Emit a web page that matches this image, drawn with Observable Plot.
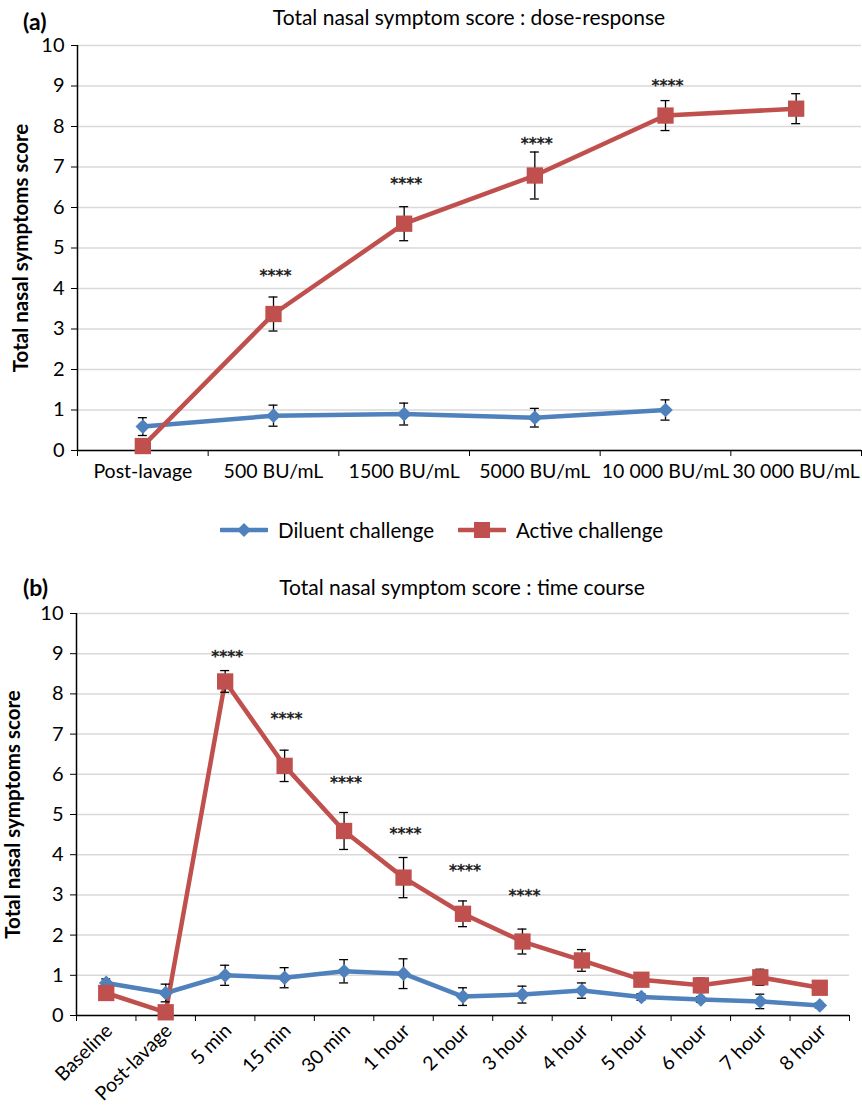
<!DOCTYPE html>
<html>
<head>
<meta charset="utf-8">
<script src="https://cdn.jsdelivr.net/npm/d3@7"></script>
<script src="https://cdn.jsdelivr.net/npm/@observablehq/plot@0.6"></script>
<style>
  body { margin: 0; background: #fff; font-family: Lato, "Open Sans", sans-serif; }
  #wrap { position: relative; width: 862px; height: 1105px; overflow: hidden; }
  .abs { position: absolute; white-space: nowrap; color: #000; }
  .title { font-size: 21px; transform: translateX(-50%); line-height: 1; }
  .plabel { font-size: 23px; font-weight: bold; line-height: 1; }
  .legend { font-size: 20.5px; display: flex; align-items: center; line-height: 1; }
  .legend svg { display: block; }
</style>
</head>
<body>
<div id="wrap">
  <div class="abs plabel" style="left:23px;top:10px">(a)</div>
  <div class="abs title" style="left:469px;top:6px">Total nasal symptom score : dose-response</div>
  <div class="abs" id="plotA" style="left:0;top:0"></div>
  <div class="abs legend" style="left:220px;top:520px">
    <svg width="48" height="20"><line x1="1" y1="10" x2="47" y2="10" stroke="#4F81BD" stroke-width="4.5" stroke-linecap="round"/><path d="M24,3 L31,10 L24,17 L17,10 Z" fill="#4F81BD"/></svg>
    <span style="margin-left:10px">Diluent challenge</span>
    <svg width="48" height="20" style="margin-left:24px"><line x1="1" y1="10" x2="47" y2="10" stroke="#C0504D" stroke-width="4.5" stroke-linecap="round"/><rect x="16" y="2" width="16" height="16" fill="#C0504D"/></svg>
    <span style="margin-left:10px">Active challenge</span>
  </div>
  <div class="abs plabel" style="left:23px;top:576px">(b)</div>
  <div class="abs title" style="left:462px;top:576px">Total nasal symptom score : time course</div>
  <div class="abs" id="plotB" style="left:0;top:570px"></div>
</div>
<script>
// ---------- Panel (a): dose-response ----------
const doseCats = ["Post-lavage", "500 BU/mL", "1500 BU/mL", "5000 BU/mL", "10 000 BU/mL", "30 000 BU/mL"];
const doseDiluentMean = [0.59, 0.86, 0.90, 0.81, 1.00, null];
const doseDiluentErr  = [0.22, 0.26, 0.27, 0.23, 0.25, null];
const doseActiveMean  = [0.11, 3.37, 5.60, 6.79, 8.27, 8.44];
const doseActiveErr   = [0.00, 0.42, 0.42, 0.58, 0.37, 0.37];
const doseSigLabel    = ["", "****", "****", "****", "****", ""];
const doseSigLevel    = [null, 4.40, 6.67, 7.68, 9.09, null];

// ---------- Panel (b): time course ----------
const timeCats = ["Baseline", "Post-lavage", "5 min", "15 min", "30 min", "1 hour", "2 hour", "3 hour", "4 hour", "5 hour", "6 hour", "7 hour", "8 hour"];
const timeDiluentMean = [0.81, 0.56, 1.00, 0.94, 1.10, 1.04, 0.47, 0.52, 0.62, 0.46, 0.40, 0.35, 0.25];
const timeDiluentErr  = [0.10, 0.22, 0.25, 0.25, 0.29, 0.37, 0.22, 0.21, 0.19, 0.08, 0.07, 0.18, 0.06];
const timeActiveMean  = [0.56, 0.08, 8.31, 6.21, 4.59, 3.43, 2.53, 1.84, 1.37, 0.89, 0.75, 0.95, 0.69];
const timeActiveErr   = [0.05, 0.05, 0.27, 0.39, 0.46, 0.50, 0.32, 0.31, 0.27, 0.05, 0.18, 0.20, 0.05];
const timeSigLabel    = ["", "", "****", "****", "****", "****", "****", "****", "", "", "", "", ""];
const timeSigLevel    = [null, null, 9.03, 7.47, 5.89, 4.62, 3.69, 3.07, null, null, null, null, null];

const yTicks = [0, 1, 2, 3, 4, 5, 6, 7, 8, 9, 10];
const BLUE = "#4F81BD", RED = "#C0504D";

function rows(cats, mean, err) {
  return cats.map((c, i) => ({i, cat: c, m: mean[i], e: err[i]})).filter(d => d.m != null);
}
function sigRows(cats, labels, levels) {
  return cats.map((c, i) => ({i, label: labels[i], y: levels[i]})).filter(d => d.y != null && d.label);
}

function panel({cats, dil, act, sig, height, mt, mb, ml, mr, rotate, xFont, labelX}) {
  const n = cats.length;
  const errMarks = (data) => [
    Plot.ruleX(data.filter(d => d.e > 0), {x: "i", y1: d => d.m - d.e, y2: d => d.m + d.e, stroke: "#000", strokeWidth: 1.3}),
    Plot.ruleY(data.filter(d => d.e > 0), {y: d => d.m + d.e, x1: "i", x2: "i", insetLeft: -4.5, insetRight: -4.5, stroke: "#000", strokeWidth: 1.3}),
    Plot.ruleY(data.filter(d => d.e > 0), {y: d => d.m - d.e, x1: "i", x2: "i", insetLeft: -4.5, insetRight: -4.5, stroke: "#000", strokeWidth: 1.3})
  ];
  return Plot.plot({
    width: 862,
    height,
    marginTop: mt, marginBottom: mb, marginLeft: ml, marginRight: mr,
    style: {fontFamily: "Lato, 'Open Sans', sans-serif", fontSize: "20px", color: "#000", background: "transparent"},
    x: {type: "linear", domain: [-0.5, n - 0.5]},
    y: {domain: [0, 10]},
    marks: [
      Plot.gridY(yTicks, {stroke: "#d9d9d9", strokeOpacity: 1, strokeWidth: 1.5}),
      Plot.axisY(yTicks, {tickSize: 6, tickPadding: 7, fontSize: 20, label: null, stroke: "#000"}),
      Plot.axisX(d3.range(n + 1).map(k => k - 0.5), {tickSize: 6, tickFormat: () => "", label: null, stroke: "#000"}),
      rotate
        ? Plot.axisX(d3.range(n), {tickSize: 0, tickPadding: 12, tickRotate: -45, dx: 3, fontSize: xFont, tickFormat: k => cats[k], label: null})
        : Plot.axisX(d3.range(n), {tickSize: 0, tickPadding: 14, fontSize: xFont, tickFormat: k => cats[k], label: null}),
      Plot.ruleY([0], {stroke: "#000", strokeWidth: 1.5}),
      Plot.ruleX([-0.5], {stroke: "#000", strokeWidth: 1.5}),
      Plot.line(dil, {x: "i", y: "m", stroke: BLUE, strokeWidth: 4.5}),
      Plot.line(act, {x: "i", y: "m", stroke: RED, strokeWidth: 4.5}),
      ...errMarks(dil),
      ...errMarks(act),
      Plot.dot(dil, {x: "i", y: "m", symbol: "diamond2", r: 6.6, fill: BLUE, stroke: null}),
      Plot.dot(act, {x: "i", y: "m", symbol: "square", r: 9.2, fill: RED, stroke: null}),
      Plot.text(sig, {x: "i", y: "y", text: "label", fontFamily: "'DejaVu Sans', sans-serif", fontSize: 16, dx: 2, dy: 4, fill: "#1a1a1a", stroke: "#1a1a1a", strokeWidth: 0.5}),
      Plot.text(["Total nasal symptoms score"], {frameAnchor: "left", textAnchor: "middle", rotate: -90, dx: labelX - ml, fontSize: 20.5, fontWeight: "bold", text: d => d})
    ]
  });
}

document.getElementById("plotA").append(panel({
  cats: doseCats,
  dil: rows(doseCats, doseDiluentMean, doseDiluentErr),
  act: rows(doseCats, doseActiveMean, doseActiveErr),
  sig: sigRows(doseCats, doseSigLabel, doseSigLevel),
  height: 500, mt: 45, mb: 50, ml: 77, mr: 1, rotate: false, xFont: 19.5, labelX: 21
}));

document.getElementById("plotB").append(panel({
  cats: timeCats,
  dil: rows(timeCats, timeDiluentMean, timeDiluentErr),
  act: rows(timeCats, timeActiveMean, timeActiveErr),
  sig: sigRows(timeCats, timeSigLabel, timeSigLevel),
  height: 535, mt: 43, mb: 90, ml: 76, mr: 13, rotate: true, xFont: 19.5, labelX: 13
}));
</script>
</body>
</html>
